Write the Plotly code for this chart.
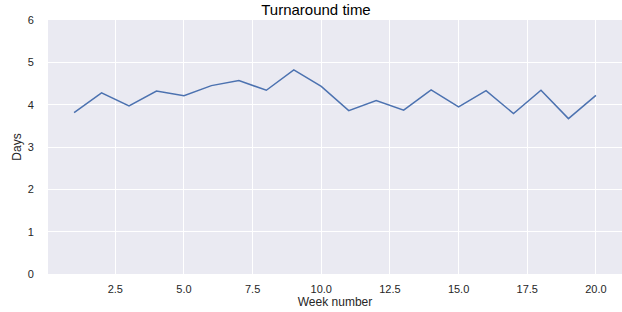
import plotly.graph_objects as go

weeks = list(range(1, 21))
days = [3.81, 4.28, 3.97, 4.32, 4.21, 4.45, 4.57, 4.34, 4.82, 4.43,
        3.86, 4.10, 3.87, 4.35, 3.95, 4.33, 3.79, 4.34, 3.67, 4.22]
x_ticks = [2.5, 5.0, 7.5, 10.0, 12.5, 15.0, 17.5, 20.0]
y_ticks = [0, 1, 2, 3, 4, 5, 6]

fig = go.Figure()
fig.add_trace(go.Scatter(x=weeks, y=days, mode="lines",
                         line=dict(color="#4C72B0", width=1.5)))

font = "Liberation Sans, Arial, sans-serif"
fig.update_layout(
    width=622, height=312,
    margin=dict(l=48, r=0, t=20, b=38, autoexpand=False),
    paper_bgcolor="white",
    plot_bgcolor="#EAEAF2",
    showlegend=False,
    font=dict(family=font, size=11, color="#262626"),
    title=dict(text="Turnaround time", x=0.508, xanchor="center", xref="container",
               y=1.0, yanchor="top", yref="container", pad=dict(t=4),
               font=dict(family=font, size=15, color="#000000")),
)
fig.update_xaxes(
    range=[0.05, 20.95], tickvals=x_ticks,
    ticktext=[f"{v:.1f}" for v in x_ticks],
    showgrid=True, gridcolor="white", gridwidth=1,
    zeroline=False, showline=False, automargin=False,
    ticks="outside", ticklen=5, tickcolor="rgba(0,0,0,0)",
    title=dict(text="Week number", standoff=2, font=dict(size=12, color="#262626")),
)
fig.update_yaxes(
    range=[0, 6], tickvals=y_ticks,
    showgrid=True, gridcolor="white", gridwidth=1,
    zeroline=False, showline=False, automargin=False,
    ticks="outside", ticklen=11, tickcolor="rgba(0,0,0,0)",
    title=dict(text="Days", standoff=3, font=dict(size=12, color="#262626")),
)

fig.write_html("out.html", config={"displayModeBar": False},
               post_script="document.body.style.margin='0';document.body.style.padding='0';")
